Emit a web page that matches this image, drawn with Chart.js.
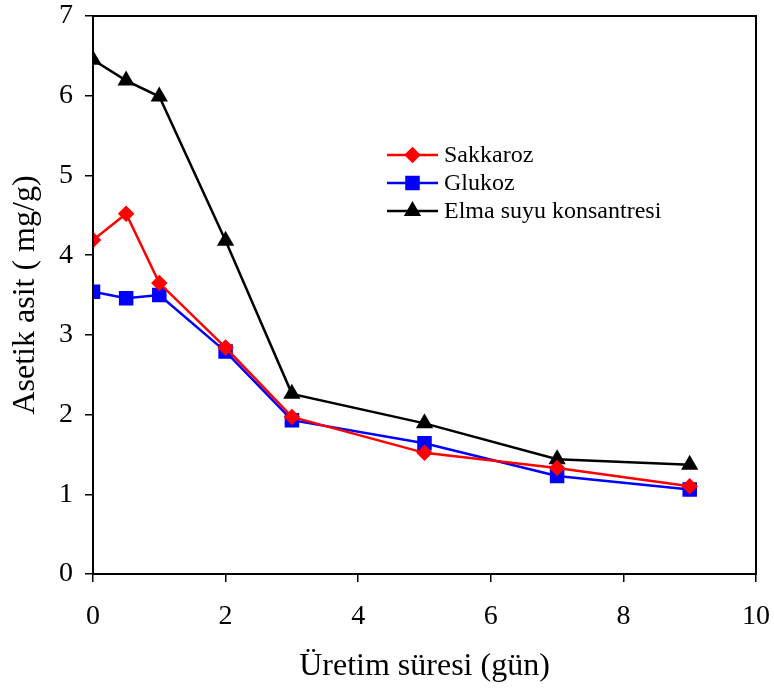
<!DOCTYPE html>
<html lang="tr">
<head>
  <meta charset="UTF-8" />
  <title>Asetik asit - Üretim süresi</title>
  <style>
    html, body { margin: 0; padding: 0; background: #fff; }
    #wrap { width: 774px; height: 693px; position: relative; }
  </style>
</head>
<body>
  <div id="wrap"><canvas id="chart"></canvas></div>

  <script src="https://cdn.jsdelivr.net/npm/chart.js@4/dist/chart.umd.min.js"></script>
  <script>
    // --- veri ---
    const gunler = [0, 0.5, 1, 2, 3, 5, 7, 9];
    const sakkaroz = [4.19, 4.52, 3.65, 2.84, 1.97, 1.52, 1.33, 1.10];
    const glukoz = [3.54, 3.46, 3.50, 2.79, 1.93, 1.64, 1.23, 1.06];
    const elmaSuyu = [6.45, 6.19, 5.99, 4.18, 2.26, 1.89, 1.44, 1.37];
    const xTicks = [0, 2, 4, 6, 8, 10];
    const yTicks = [0, 1, 2, 3, 4, 5, 6, 7];

    const serif = 'Liberation Serif';

    function pts(ys) {
      return gunler.map((g, i) => ({ x: g, y: ys[i] }));
    }

    // plot çerçevesi (üst ve sağ kenar dahil)
    const framePlugin = {
      id: 'frame',
      afterDatasetsDraw(chart) {
        const { ctx, chartArea: a } = chart;
        ctx.save();
        ctx.strokeStyle = '#000';
        ctx.lineWidth = 2;
        ctx.strokeRect(a.left, a.top, a.right - a.left, a.bottom - a.top);
        ctx.restore();
      }
    };

    // çizgi + işaretli lejant, grafik içinde
    const legendPlugin = {
      id: 'innerLegend',
      afterDraw(chart) {
        const ctx = chart.ctx;
        const x0 = 387, x1 = 438, tx = 444;
        const rows = [155, 183, 211];
        ctx.save();
        chart.data.datasets.forEach((ds, i) => {
          const y = rows[i];
          ctx.strokeStyle = ds.borderColor;
          ctx.lineWidth = ds.borderWidth;
          ctx.beginPath();
          ctx.moveTo(x0, y);
          ctx.lineTo(x1, y);
          ctx.stroke();
          ctx.fillStyle = ds.pointBackgroundColor;
          ctx.strokeStyle = ds.pointBorderColor;
          Chart.helpers.drawPoint(ctx, {
            pointStyle: ds.pointStyle,
            radius: ds.pointRadius,
            rotation: 0,
            borderWidth: 1
          }, (x0 + x1) / 2, y);
          ctx.fillStyle = '#000';
          ctx.font = '24px "' + serif + '"';
          ctx.textBaseline = 'middle';
          ctx.fillText(ds.label, tx, y + 1);
        });
        ctx.restore();
      }
    };

    const ctx = document.getElementById('chart').getContext('2d');
    new Chart(ctx, {
      type: 'scatter',
      data: {
        datasets: [
          {
            label: 'Sakkaroz',
            data: pts(sakkaroz),
            showLine: true,
            borderColor: '#ff0000',
            borderWidth: 2.5,
            pointStyle: 'rectRot',
            pointRadius: 6.5,
            pointBackgroundColor: '#ff0000',
            pointBorderColor: '#ff0000'
          },
          {
            label: 'Glukoz',
            data: pts(glukoz),
            showLine: true,
            borderColor: '#0000ff',
            borderWidth: 2.5,
            pointStyle: 'rect',
            pointRadius: 8.5,
            pointBackgroundColor: '#0000ff',
            pointBorderColor: '#0000ff'
          },
          {
            label: 'Elma suyu konsantresi',
            data: pts(elmaSuyu),
            showLine: true,
            borderColor: '#000000',
            borderWidth: 2.5,
            pointStyle: 'triangle',
            pointRadius: 7.5,
            pointBackgroundColor: '#000000',
            pointBorderColor: '#000000'
          }
        ]
      },
      options: {
        responsive: true,
        maintainAspectRatio: false,
        animation: false,
        layout: { padding: { top: 16, right: 18, left: 0, bottom: 0 } },
        plugins: {
          legend: { display: false },
          tooltip: { enabled: false }
        },
        scales: {
          x: {
            type: 'linear',
            min: 0,
            max: 10,
            afterBuildTicks(scale) { scale.ticks = xTicks.map(v => ({ value: v })); },
            afterFit(scale) {
              scale.height = 119;
              scale.paddingLeft = 0;
              scale.paddingRight = 0;
            },
            grid: { drawOnChartArea: false, color: '#000', tickLength: 8, lineWidth: 1.5 },
            border: { color: '#000', width: 2 },
            ticks: { color: '#000', font: { family: serif, size: 28 }, padding: 18, maxRotation: 0 },
            title: {
              display: true,
              text: 'Üretim süresi (gün)',
              color: '#000',
              font: { family: serif, size: 32 },
              padding: { top: 0, bottom: 7 }
            }
          },
          y: {
            min: 0,
            max: 7,
            afterBuildTicks(scale) { scale.ticks = yTicks.map(v => ({ value: v })); },
            afterFit(scale) {
              scale.width = 93;
              scale.paddingTop = 0;
              scale.paddingBottom = 0;
            },
            grid: { drawOnChartArea: false, color: '#000', tickLength: 8, lineWidth: 1.5 },
            border: { color: '#000', width: 2 },
            ticks: { color: '#000', font: { family: serif, size: 28 }, padding: 12 },
            title: {
              display: true,
              text: 'Asetik asit ( mg/g)',
              color: '#000',
              font: { family: serif, size: 32 },
              padding: { top: 6, bottom: 0 }
            }
          }
        }
      },
      plugins: [framePlugin, legendPlugin]
    });
  </script>
</body>
</html>
